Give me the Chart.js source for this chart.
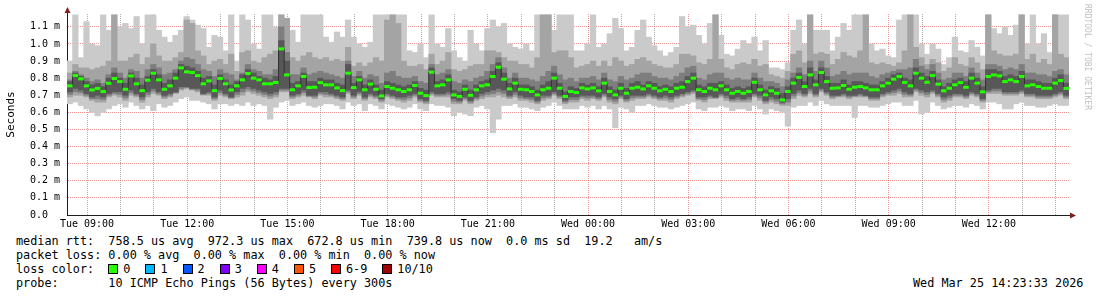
<!DOCTYPE html>
<html>
<head>
<meta charset="utf-8">
<script src="https://cdn.jsdelivr.net/npm/chart.js@4"></script>
<style>
body { margin: 0; background: #fff; }
#wrap { position: relative; width: 1097px; height: 297px; font-family: 'DejaVu Sans Mono', monospace; color: #000; overflow: hidden; }
#chart { position: absolute; left: 0; top: 0; }
.row { position: absolute; left: 16px; font-size: 11.8px; line-height: 14px; white-space: pre; }
.box { display: inline-block; width: 8px; height: 8px; border: 1px solid #000; vertical-align: -1px; margin-right: 5px; }
.item { margin-right: 15px; }
#rrd { position: absolute; left: 1083px; top: 4px; font-size: 8px; color: #c0c0c0; writing-mode: vertical-rl; white-space: pre; }
</style>
</head>
<body>
<div id="wrap">
  <canvas id="chart" width="1097" height="232"></canvas>
  <div id="rrd">RRDTOOL / TOBI OETIKER</div>
  <div class="row" style="top:234px">median rtt:  758.5 us avg  972.3 us max  672.8 us min  739.8 us now  0.0 ms sd  19.2   am/s</div>
  <div class="row" style="top:248px">packet loss: 0.00 % avg  0.00 % max  0.00 % min  0.00 % now</div>
  <div class="row" id="losses" style="top:262px">loss color:  </div>
  <div class="row" style="top:276px">probe:       10 ICMP Echo Pings (56 Bytes) every 300s</div>
  <div class="row" style="top:276px; left:913px">Wed Mar 25 14:23:33 2026</div>
</div>
<script>
// time axis: minutes since Tue 00:00, one column per 10 minutes
var startMin = 504;
var stepMin = 10;

// ping values in microseconds
var median = [
  755,815,796,755,731,740,722,770,798,780,735,813,767,727,788,829,790,735,755,800,860,837,833,815,767,784,727,798,767,731,
  755,790,827,800,790,767,767,775,971,819,732,755,810,745,747,774,761,761,743,727,829,745,790,732,765,735,696,751,741,732,
  722,732,757,712,698,835,755,761,790,702,693,735,700,732,755,761,810,864,794,737,771,735,732,722,702,732,741,800,741,693,
  722,716,743,737,743,726,771,722,702,741,712,741,747,737,755,741,726,735,722,741,747,780,800,732,722,741,732,755,732,712,
  722,712,722,776,732,702,726,712,673,722,771,804,751,819,761,833,780,741,743,757,735,747,751,743,732,732,755,771,794,810,
  775,755,829,800,776,815,765,726,741,761,774,747,800,771,720,810,819,813,780,790,780,810,755,761,751,741,741,771,786,740
];
var pMax = [
  900,1170,920,1130,1000,990,1170,1080,1170,1100,1120,1090,1160,1000,1170,1170,1080,1040,1010,1050,1080,1160,1140,1110,1090,980,1050,1040,960,1170,
  900,1170,1140,1000,970,1170,1170,1100,1170,1150,1080,1010,1170,1170,1170,1170,1040,1010,1070,1040,1140,1040,1000,980,1010,1170,1170,1170,1170,1170,
  1170,960,950,1000,920,1170,1000,980,1090,960,920,900,1080,1000,960,1090,1140,1100,1120,1000,980,970,1000,960,1170,1170,1170,1080,1170,1170,
  1170,960,960,1000,1170,980,1000,1060,1150,1090,960,980,1080,1140,1040,990,960,930,950,980,1160,1100,1110,1050,1000,1120,1170,1050,940,930,
  970,1020,1000,1040,960,1020,860,860,850,890,1080,1140,1000,1170,1080,1080,1080,960,1040,1120,1080,1170,1170,1170,1000,960,970,930,920,1140,
  1170,1170,1170,1000,940,1000,970,880,920,1040,960,950,1020,980,930,1170,1090,1060,1100,1050,1110,1170,1000,1170,1000,1060,950,1170,1170,1170
];
var p2Hi = [
  830,880,860,860,850,860,870,900,1170,900,900,920,940,880,920,1000,930,900,900,920,950,1140,1120,960,930,880,900,910,880,940,
  840,950,960,900,890,920,940,960,1170,1150,920,900,930,950,920,910,920,900,910,900,980,870,890,870,890,920,900,1140,1170,1120,
  900,870,870,880,850,940,880,900,950,850,840,850,870,880,880,960,960,950,920,900,900,880,880,860,920,1170,1170,950,960,960,
  920,860,870,880,900,870,900,870,920,900,870,880,910,920,900,880,870,860,860,880,940,940,930,890,880,910,1170,910,860,850,
  880,890,880,910,870,880,820,810,800,840,940,960,890,1170,940,950,940,880,910,950,930,920,960,1170,890,880,890,880,870,890,
  960,1170,980,920,880,910,890,840,860,920,880,870,920,890,850,1170,960,940,930,930,940,1170,910,940,890,910,880,1170,940,920
];
var p3Hi = [
  790,840,820,800,780,790,770,820,860,830,800,850,840,800,850,880,860,820,830,850,900,920,910,880,850,840,810,850,830,820,
  790,830,880,850,840,820,820,850,1100,950,820,820,860,820,830,840,830,820,810,800,900,810,840,800,820,810,770,830,840,810,
  800,800,810,780,770,880,820,830,850,780,770,790,780,800,810,840,880,920,860,800,830,800,800,790,780,810,840,870,820,790,
  800,780,800,800,810,790,830,790,780,810,790,800,820,830,830,810,800,800,790,810,830,860,870,800,790,820,830,830,800,790,
  800,790,790,830,800,780,780,770,750,790,830,860,820,900,840,900,860,810,820,840,820,830,830,830,810,800,820,830,840,850,
  850,860,910,870,850,880,830,790,800,830,830,810,860,830,790,880,880,870,850,860,850,880,830,830,820,820,810,840,850,820
];
var p4Hi = [
  780,830,810,780,760,770,750,800,830,800,770,830,800,760,810,850,820,770,790,830,880,870,860,840,800,810,760,820,790,760,
  780,820,850,830,810,800,790,810,1020,900,770,780,830,780,780,800,790,790,770,760,880,770,810,760,790,760,730,780,770,760,
  750,760,780,740,730,860,780,790,820,730,720,760,730,760,780,790,840,890,830,770,800,760,760,750,730,760,780,830,770,720,
  750,740,770,760,770,750,800,750,730,770,740,770,780,760,780,770,750,760,750,770,780,810,830,760,750,770,770,780,760,740,
  750,740,750,800,760,730,750,740,710,750,800,830,780,860,790,860,810,770,770,790,760,780,780,770,760,760,780,800,820,830,
  800,790,860,830,810,840,790,750,770,790,800,780,830,800,750,850,850,840,810,820,810,840,790,790,780,770,770,800,820,770
];
var p4Lo = [
  720,740,730,710,690,700,690,710,720,720,700,730,710,690,720,740,720,700,710,720,750,750,740,740,710,720,690,730,710,690,
  720,740,750,740,730,720,710,720,740,740,700,710,730,700,700,720,720,710,700,690,730,700,720,690,710,700,680,710,700,690,
  690,700,710,680,670,720,710,710,720,680,670,690,670,690,710,720,730,740,730,700,720,700,690,690,670,700,700,720,700,670,
  690,690,700,700,700,690,710,690,680,700,680,700,700,700,710,700,690,700,690,700,710,720,730,690,690,700,690,710,700,680,
  690,680,690,710,700,670,690,680,660,680,710,730,710,740,710,740,720,700,700,710,700,700,710,700,690,690,710,720,730,740,
  720,710,740,730,720,730,710,690,700,710,710,700,720,710,680,730,740,740,720,720,720,730,710,710,700,700,700,710,720,700
];
var p3Lo = [
  705,720,715,700,680,680,675,700,710,705,685,715,700,675,705,725,710,690,700,715,740,745,735,730,705,710,680,715,700,685,
  705,720,735,725,715,705,695,705,730,730,690,700,715,695,690,710,705,700,690,680,720,690,710,680,700,690,670,700,690,680,
  675,685,700,670,660,710,700,700,705,665,660,680,660,680,695,705,710,720,710,690,705,685,680,675,660,685,690,710,690,660,
  675,675,690,685,690,680,700,675,665,690,670,685,690,690,700,690,680,685,675,690,700,710,720,680,675,690,685,700,685,670,
  675,670,675,700,685,660,675,665,650,660,695,715,700,725,700,730,710,690,695,700,690,695,700,695,680,680,700,710,715,725,
  705,700,730,715,705,720,700,675,685,700,700,690,710,700,670,720,725,725,710,710,710,720,700,700,690,690,690,700,710,690
];
var p2Lo = [
  690,700,700,690,670,660,660,690,700,690,670,700,690,660,690,710,700,680,690,710,730,740,730,720,700,700,670,700,690,680,
  690,700,720,710,700,690,680,690,720,720,680,690,700,690,680,700,690,690,680,670,710,680,700,670,690,680,660,690,680,670,
  660,670,690,660,650,700,690,690,690,650,650,670,650,670,680,690,690,700,690,680,690,670,670,660,650,670,680,700,680,650,
  660,660,680,670,680,670,690,660,650,680,660,670,680,680,690,680,670,670,660,680,690,700,710,670,660,680,680,690,670,660,
  660,660,660,690,670,650,660,650,640,640,680,700,690,710,690,720,700,680,690,690,680,690,690,690,670,670,690,700,700,710,
  690,690,720,700,690,710,690,660,670,690,690,680,700,690,660,710,710,710,700,700,700,710,690,690,680,680,680,690,700,680
];
var pMin = [
  650,660,640,620,600,580,600,620,640,650,630,660,640,620,640,610,650,630,640,660,680,690,670,670,660,650,620,650,650,640,
  650,640,660,640,650,640,560,630,660,670,640,650,660,640,630,640,650,650,640,620,660,640,650,610,650,640,620,650,640,630,
  620,630,650,620,610,650,640,640,630,580,600,590,580,630,640,620,480,560,640,640,650,630,630,620,610,630,640,660,640,620,
  620,620,640,630,640,620,640,620,510,630,620,600,640,640,650,640,630,630,620,630,640,650,660,620,610,630,630,640,630,610,
  620,620,610,640,620,590,620,610,600,520,630,640,640,660,640,670,650,640,640,640,640,570,640,640,630,630,640,650,660,660,
  640,640,670,590,600,660,640,620,630,640,640,630,650,640,620,660,660,650,620,620,650,660,640,640,630,630,640,650,640,640
];

var lossLabels = ['0', '1', '2', '3', '4', '5', '6-9', '10/10'];
var lossColors = ['#26ff00', '#00b8ff', '#0059ff', '#7e00ff', '#ff00ff', '#ff5500', '#ff0000', '#a10000'];

var times = median.map(function(v, i) { return startMin + (i + 0.5) * stepMin; });
var endMin = startMin + median.length * stepMin;
var days = ['Tue', 'Wed'];

function band(lo, hi) {
    return times.map(function(t, i) { return {x: t, y: [lo[i], hi[i]]}; });
}
var medianPts = times.map(function(t, i) { return {x: t, y: median[i]}; });

var loss = document.getElementById('losses');
lossLabels.forEach(function(l, i) {
    var s = document.createElement('span');
    s.className = 'item';
    s.innerHTML = '<span class="box" style="background:' + lossColors[i] + '"></span>' + l;
    loss.appendChild(s);
});

var gridCol = 'rgba(143,143,143,0.75)';
var mgridCol = 'rgba(222,79,79,0.6)';
var tickFont = {family: 'DejaVu Sans Mono', size: 10};

// axis arrows like rrdtool draws them
var arrows = {
    id: 'arrows',
    afterDraw: function(chart) {
        var c = chart.ctx, a = chart.chartArea;
        c.save();
        c.strokeStyle = '#1f1f1f';
        c.beginPath();
        c.moveTo(a.left + 0.5, a.top); c.lineTo(a.left + 0.5, a.top - 4);
        c.moveTo(a.right, a.bottom + 0.5); c.lineTo(a.right + 3, a.bottom + 0.5);
        c.stroke();
        c.fillStyle = '#801f1f';
        c.beginPath();
        c.moveTo(a.left - 2.5, a.top - 1); c.lineTo(a.left + 3.5, a.top - 1); c.lineTo(a.left + 0.5, a.top - 7);
        c.closePath(); c.fill();
        c.beginPath();
        c.moveTo(a.right + 1, a.bottom - 2.5); c.lineTo(a.right + 1, a.bottom + 3.5); c.lineTo(a.right + 7, a.bottom + 0.5);
        c.closePath(); c.fill();
        c.restore();
    }
};

new Chart(document.getElementById('chart'), {
    type: 'bar',
    data: {
        datasets: [
            {
                type: 'line',
                data: medianPts,
                showLine: false,
                pointStyle: 'line',
                pointRadius: 2.8,
                pointBorderWidth: 3,
                pointBorderColor: lossColors[0],
                order: 0
            }, {
                type: 'line',
                data: medianPts,
                stepped: 'middle',
                borderColor: '#323232',
                borderWidth: 1,
                pointRadius: 0,
                order: 1
            },
            {data: band(p4Lo, p4Hi), backgroundColor: '#585858', order: 2},
            {data: band(p3Lo, p3Hi), backgroundColor: '#7e7e7e', order: 3},
            {data: band(p2Lo, p2Hi), backgroundColor: '#a4a4a4', order: 4},
            {data: band(pMin, pMax), backgroundColor: '#cacaca', order: 5}
        ]
    },
    options: {
        responsive: false,
        animation: false,
        devicePixelRatio: 1,
        layout: {padding: {top: 14, right: 28, left: 0, bottom: 0}},
        datasets: {
            bar: {grouped: false, barPercentage: 1, categoryPercentage: 1, borderWidth: 0}
        },
        plugins: {legend: {display: false}, tooltip: {enabled: false}},
        scales: {
            x: {
                type: 'linear',
                min: startMin,
                max: endMin,
                offset: false,
                z: 1,
                afterFit: function(s) { s.height = 17; },
                afterBuildTicks: function(s) {
                    // one tick per full hour
                    var ticks = [];
                    for (var m = Math.ceil(startMin / 60) * 60; m < endMin; m += 60) ticks.push({value: m});
                    s.ticks = ticks;
                },
                grid: {
                    offset: false,
                    drawTicks: false,
                    color: function(ctx) { return ctx.tick && ctx.tick.value % 180 === 0 ? mgridCol : gridCol; }
                },
                border: {color: '#1f1f1f', dash: [1, 1]},
                ticks: {
                    autoSkip: false,
                    maxRotation: 0,
                    padding: 3,
                    font: tickFont,
                    color: '#000',
                    callback: function(v) {
                        if (v % 180 !== 0) return '';
                        var h = Math.floor((v % 1440) / 60);
                        return days[Math.floor(v / 1440)] + ' ' + String(h).padStart(2, '0') + ':00';
                    }
                }
            },
            y: {
                min: 0,
                max: 1175,
                z: 1,
                afterFit: function(s) { s.width = 67; },
                grid: {drawTicks: false, color: mgridCol},
                border: {color: '#1f1f1f', dash: [1, 1]},
                title: {
                    display: true,
                    text: 'Seconds',
                    color: '#000',
                    font: {family: 'DejaVu Sans Mono', size: 11},
                    padding: {top: 5, bottom: 0}
                },
                ticks: {
                    stepSize: 100,
                    includeBounds: false,
                    padding: 7,
                    font: tickFont,
                    color: '#000',
                    callback: function(v) { return v === 0 ? '0.0  ' : (v / 1000).toFixed(1) + ' m'; }
                }
            }
        }
    },
    plugins: [arrows]
});
</script>
</body>
</html>
